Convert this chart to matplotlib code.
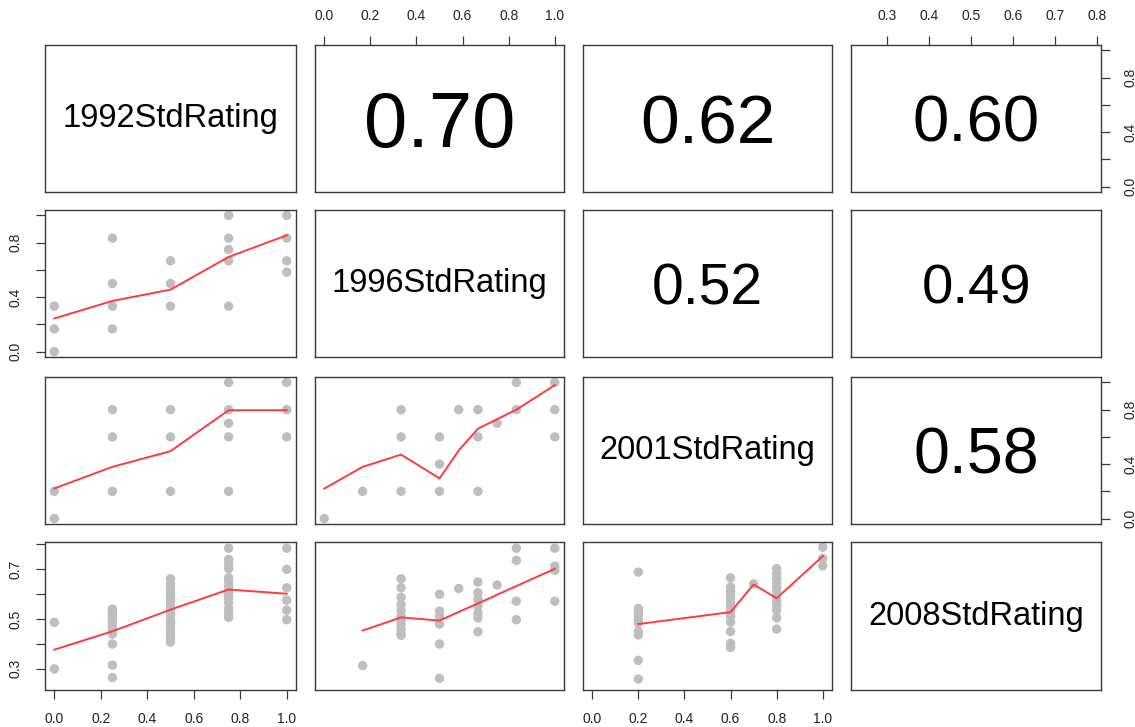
import matplotlib
matplotlib.use('Agg')
import matplotlib.pyplot as plt
import numpy as np

plt.rcParams['font.family'] = 'Liberation Sans'

names = ['1992StdRating', '1996StdRating', '2001StdRating', '2008StdRating']

# correlations (upper panels)
cor_cells = [(0, 1), (0, 2), (0, 3), (1, 2), (1, 3), (2, 3)]
cor_text = ['0.70', '0.62', '0.60', '0.52', '0.49', '0.58']

# lower panels: x levels and the y values found at each level
p21_x = [0, 0.25, 0.5, 0.75, 1.0]
p21_y = [[1/3, 1/6, 0],
         [5/6, 0.5, 1/3, 1/6],
         [2/3, 0.5, 1/3],
         [1.0, 5/6, 0.75, 2/3, 1/3],
         [1.0, 5/6, 2/3, 7/12]]
fit21_x = [0, 0.25, 0.5, 0.75, 1.0]
fit21_y = [0.243, 0.372, 0.455, 0.695, 0.854]

p31_x = [0, 0.25, 0.5, 0.75, 1.0]
p31_y = [[0.2, 0.0],
         [0.8, 0.6, 0.2],
         [0.8, 0.6, 0.2],
         [1.0, 0.8, 0.7, 0.6, 0.2],
         [1.0, 0.8, 0.6]]
fit31_x = [0, 0.25, 0.5, 0.75, 1.0]
fit31_y = [0.221, 0.38, 0.495, 0.796, 0.796]

p32_x = [0, 1/6, 1/3, 0.5, 7/12, 2/3, 0.75, 5/6, 1.0]
p32_y = [[0.0],
         [0.2],
         [0.8, 0.6, 0.2],
         [0.6, 0.4, 0.2],
         [0.8],
         [0.8, 0.6, 0.2],
         [0.7],
         [1.0, 0.8],
         [1.0, 0.8, 0.6]]
fit32_x = [0, 1/6, 1/3, 0.5, 7/12, 2/3, 0.75, 5/6, 1.0]
fit32_y = [0.22, 0.38, 0.47, 0.295, 0.50, 0.66, 0.73, 0.80, 0.98]

p41_x = [0, 0.25, 0.5, 0.75, 1.0]
p41_y = [[0.487, 0.30],
         [0.54, 0.53, 0.515, 0.50, 0.485, 0.47, 0.455, 0.44, 0.40, 0.315, 0.265],
         [0.662, 0.642, 0.626, 0.61, 0.595, 0.583, 0.572, 0.556, 0.538, 0.518,
          0.498, 0.485, 0.467, 0.451, 0.437, 0.421, 0.408],
         [0.785, 0.74, 0.72, 0.703, 0.666, 0.653, 0.633, 0.615, 0.599, 0.583,
          0.565, 0.542, 0.525, 0.507],
         [0.785, 0.70, 0.626, 0.576, 0.536, 0.498]]
fit41_x = [0, 0.25, 0.5, 0.75, 1.0]
fit41_y = [0.377, 0.451, 0.538, 0.619, 0.602]

p42_x = [1/6, 1/3, 0.5, 7/12, 2/3, 0.75, 5/6, 1.0]
p42_y = [[0.313],
         [0.662, 0.626, 0.588, 0.559, 0.532, 0.511, 0.494, 0.478, 0.46, 0.441, 0.435],
         [0.60, 0.532, 0.511, 0.48, 0.40, 0.262],
         [0.623],
         [0.649, 0.606, 0.58, 0.553, 0.525, 0.505, 0.449],
         [0.637],
         [0.785, 0.736, 0.572, 0.498],
         [0.785, 0.713, 0.696, 0.572]]
fit42_x = [1/6, 1/3, 0.5, 7/12, 2/3, 0.75, 5/6, 1.0]
fit42_y = [0.454, 0.507, 0.494, 0.529, 0.563, 0.598, 0.633, 0.702]

p43_x = [0.2, 0.6, 0.7, 0.8, 1.0]
p43_y = [[0.689, 0.543, 0.529, 0.514, 0.498, 0.484, 0.45, 0.436, 0.334, 0.259],
         [0.666, 0.63, 0.614, 0.60, 0.584, 0.569, 0.552, 0.532, 0.511, 0.488,
          0.45, 0.402, 0.386],
         [0.641],
         [0.703, 0.682, 0.662, 0.644, 0.628, 0.611, 0.589, 0.573, 0.557, 0.535,
          0.505, 0.46],
         [0.789, 0.744, 0.714]]
fit43_x = [0.2, 0.6, 0.7, 0.8, 1.0]
fit43_y = [0.48, 0.528, 0.639, 0.584, 0.753]

ticks01 = [0.0, 0.2, 0.4, 0.6, 0.8, 1.0]
ticks08 = [0.3, 0.4, 0.5, 0.6, 0.7, 0.8]

lower = {(1, 0): (p21_x, p21_y, fit21_x, fit21_y),
         (2, 0): (p31_x, p31_y, fit31_x, fit31_y),
         (2, 1): (p32_x, p32_y, fit32_x, fit32_y),
         (3, 0): (p41_x, p41_y, fit41_x, fit41_y),
         (3, 1): (p42_x, p42_y, fit42_x, fit42_y),
         (3, 2): (p43_x, p43_y, fit43_x, fit43_y)}

lims = [(-0.04, 1.04)] * 3 + [(0.215, 0.81)]
cor_sizes = [56, 50, 47, 41, 40.5, 46.5]

W, H = 1135, 727
col_x = [(45, 296), (315, 564), (583, 832), (851, 1101)]
row_y = [(45, 192), (210, 357), (377, 524), (542, 690)]

fig = plt.figure(figsize=(W / 100, H / 100), dpi=100)
axes = {}
for i in range(4):
    for j in range(4):
        x0, x1 = col_x[j]
        y0, y1 = row_y[i]
        ax = fig.add_axes([x0 / W, 1 - y1 / H, (x1 - x0) / W, (y1 - y0) / H])
        ax.set_xlim(lims[j])
        ax.set_ylim(lims[i])
        ax.set_xticks([])
        ax.set_yticks([])
        for s in ax.spines.values():
            s.set_color('#3a3a3a')
            s.set_linewidth(1.0)
        axes[(i, j)] = ax

for (i, j), (xs, ys, fx, fy) in lower.items():
    ax = axes[(i, j)]
    px = [x for x, grp in zip(xs, ys) for _ in grp]
    py = [y for grp in ys for y in grp]
    ax.scatter(px, py, s=46, color='#bebebe', edgecolors='none', zorder=2)
    ax.plot(fx, fy, color='#ff3b3b', lw=1.4, zorder=3)

for k in range(4):
    ax = axes[(k, k)]
    ax.text(0.5, 0.5, names[k], transform=ax.transAxes, ha='center',
            va='center', fontsize=23.5)

for (i, j), t, fs in zip(cor_cells, cor_text, cor_sizes):
    ax = axes[(i, j)]
    ax.text(0.5, 0.5, t, transform=ax.transAxes, ha='center',
            va='center_baseline', fontsize=fs)

tick_kw = dict(length=6.5, width=0.9, color='#3a3a3a', labelcolor='#222222',
               labelsize=10, pad=9.5)
sparse01 = ['0.0', '', '0.4', '', '0.8', '']
full01 = ['0.0', '0.2', '0.4', '0.6', '0.8', '1.0']

# top axes
for (i, j), tk in [((0, 1), ticks01), ((0, 3), ticks08)]:
    ax = axes[(i, j)]
    ax.set_xticks(tk)
    ax.set_xticklabels(['%.1f' % v for v in tk])
    ax.tick_params(axis='x', top=True, bottom=False, labeltop=True,
                   labelbottom=False, **tick_kw)

# bottom axes
for (i, j) in [(3, 0), (3, 2)]:
    ax = axes[(i, j)]
    ax.set_xticks(ticks01)
    ax.set_xticklabels(full01)
    ax.tick_params(axis='x', **tick_kw)

# right axes
for (i, j) in [(0, 3), (2, 3)]:
    ax = axes[(i, j)]
    ax.set_yticks(ticks01)
    ax.set_yticklabels(sparse01, rotation=90, va='center')
    ax.tick_params(axis='y', right=True, left=False, labelright=True,
                   labelleft=False, **tick_kw)

# left axes
ax = axes[(1, 0)]
ax.set_yticks(ticks01)
ax.set_yticklabels(sparse01, rotation=90, va='center')
ax.tick_params(axis='y', **tick_kw)

ax = axes[(3, 0)]
ax.set_yticks(ticks08)
ax.set_yticklabels(['0.3', '', '0.5', '', '0.7', ''], rotation=90, va='center')
ax.tick_params(axis='y', **tick_kw)

fig.savefig('out.png', dpi=100)
